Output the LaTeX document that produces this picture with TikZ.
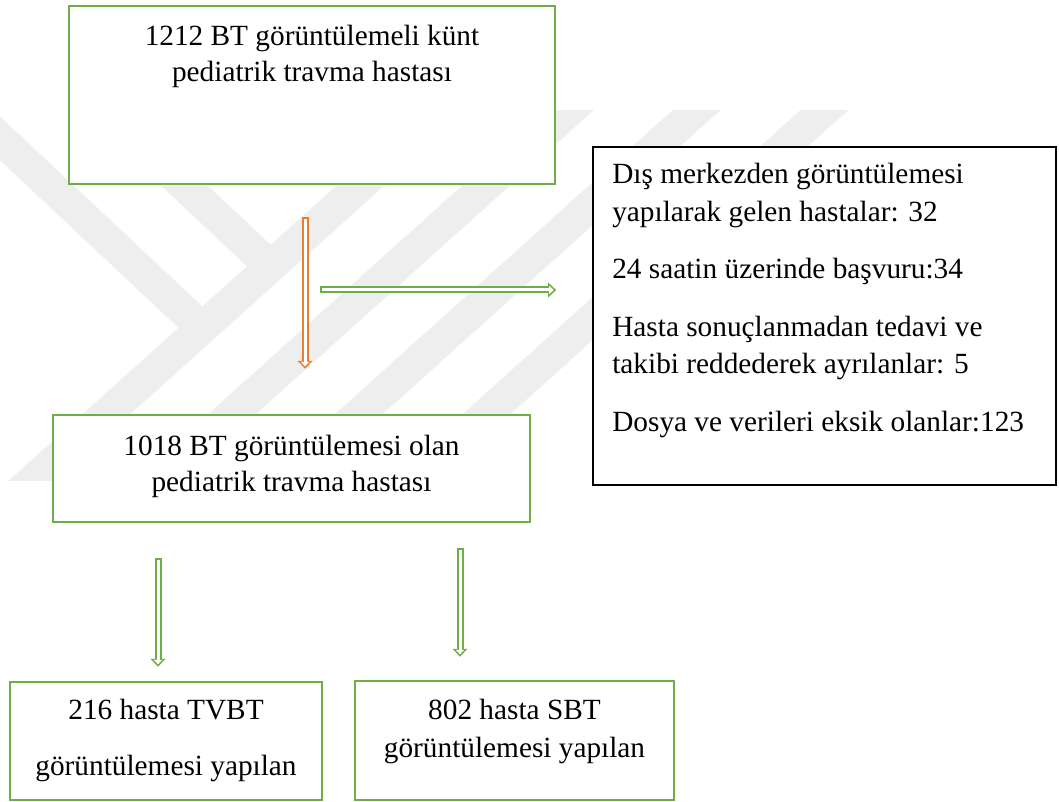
\documentclass[tikz,border=0pt]{standalone}
\usepackage{fontspec}
\setmainfont{Liberation Serif}
\usetikzlibrary{positioning,calc,arrows.meta}
\definecolor{boxgreen}{HTML}{70AD47}
\definecolor{arrorange}{HTML}{ED7D31}
\definecolor{markgray}{HTML}{EEEEEE}

\tikzset{
  gbox/.style={draw=boxgreen, line width=2.5pt, fill=white, inner sep=0pt},
  kbox/.style={draw=black, line width=1.8pt, fill=white, inner sep=0pt},
  txt/.style={inner sep=0pt, align=center, font=\fontsize{29.3pt}{36pt}\selectfont},
  hollow/.style={draw=#1, line width=7pt, -{Triangle[length=8pt,width=15pt,line width=0pt]},
    postaction={draw=white, line width=3pt, shorten <=2pt, shorten >=2.4pt,
      -{Triangle[length=4.6pt,width=8.5pt,line width=0pt]}}},
  band/.style={draw=markgray, line width=32pt}
}

\begin{document}
\begin{tikzpicture}[x=1pt,y=-1pt]
    \useasboundingbox (0,0) rectangle (1059,801);

    % faint watermark behind the chart
    \begin{scope}
        \clip (0,110) rectangle (1059,480);
        \draw[band] (-60,82) -- (202,328);
        \draw[band] (90,97) -- (271,267);
        \draw[band] (-20,528) -- (500,60);
        \draw[band] (130,506) -- (650,38);
        \draw[band] (250,512) -- (780,35);
        \draw[band] (380,510) -- (910,33);
    \end{scope}

    % boxes
    \node[gbox, minimum width=486pt, minimum height=178pt] (total) at (312,95) {};
    \node[txt, below=20pt of total.north] (totaltext) {1212 BT görüntülemeli künt\\pediatrik travma hastası};

    \node[kbox, minimum width=463pt, minimum height=338pt] (excl) at (824.5,316) {};
    \node[txt, align=left, below right=17pt and 20pt of excl.north west,
          font=\fontsize{29.3pt}{37.5pt}\selectfont] (excltext)
        {Dış merkezden görüntülemesi\\yapılarak gelen hastalar: 32\\[20pt]24 saatin üzerinde başvuru:34\\[20pt]Hasta sonuçlanmadan tedavi ve\\takibi reddederek ayrılanlar: 5\\[20pt]Dosya ve verileri eksik olanlar:123};

    \node[gbox, minimum width=477pt, minimum height=107pt] (cohort) at (291.5,468.5) {};
    \node[txt, below=21pt of cohort.north] (cohorttext) {1018 BT görüntülemesi olan\\pediatrik travma hastası};

    \node[gbox, minimum width=312pt, minimum height=118pt] (tvbt) at (166,741) {};
    \node[txt, below=18pt of tvbt.north, font=\fontsize{29.3pt}{56pt}\selectfont] (tvbttext) {216 hasta TVBT\\görüntülemesi yapılan};

    \node[gbox, minimum width=319pt, minimum height=119pt] (sbt) at (514.5,740.5) {};
    \node[txt, below=19pt of sbt.north, font=\fontsize{29.3pt}{38pt}\selectfont] (sbttext) {802 hasta SBT\\görüntülemesi yapılan};

    % arrows
    \coordinate (o1) at ([xshift=-7pt,yshift=-32pt]total.south);
    \coordinate (o2) at ([xshift=13.5pt,yshift=45pt]cohort.north);
    \coordinate (g1) at ([xshift=15pt]$(o1)!0.48!(o2)$);
    \draw[hollow=arrorange] (o1) -- (o2);
    \draw[hollow=boxgreen] (g1) -- ($(g1 -| excl.west)+(-36,0)$);
    \draw[hollow=boxgreen] ([xshift=-133.5pt,yshift=-35pt]cohort.south) -- ([xshift=-8pt,yshift=14pt]tvbt.north);
    \draw[hollow=boxgreen] ([xshift=168.5pt,yshift=-25pt]cohort.south) -- ([xshift=-54.5pt,yshift=23pt]sbt.north);
\end{tikzpicture}
\end{document}
